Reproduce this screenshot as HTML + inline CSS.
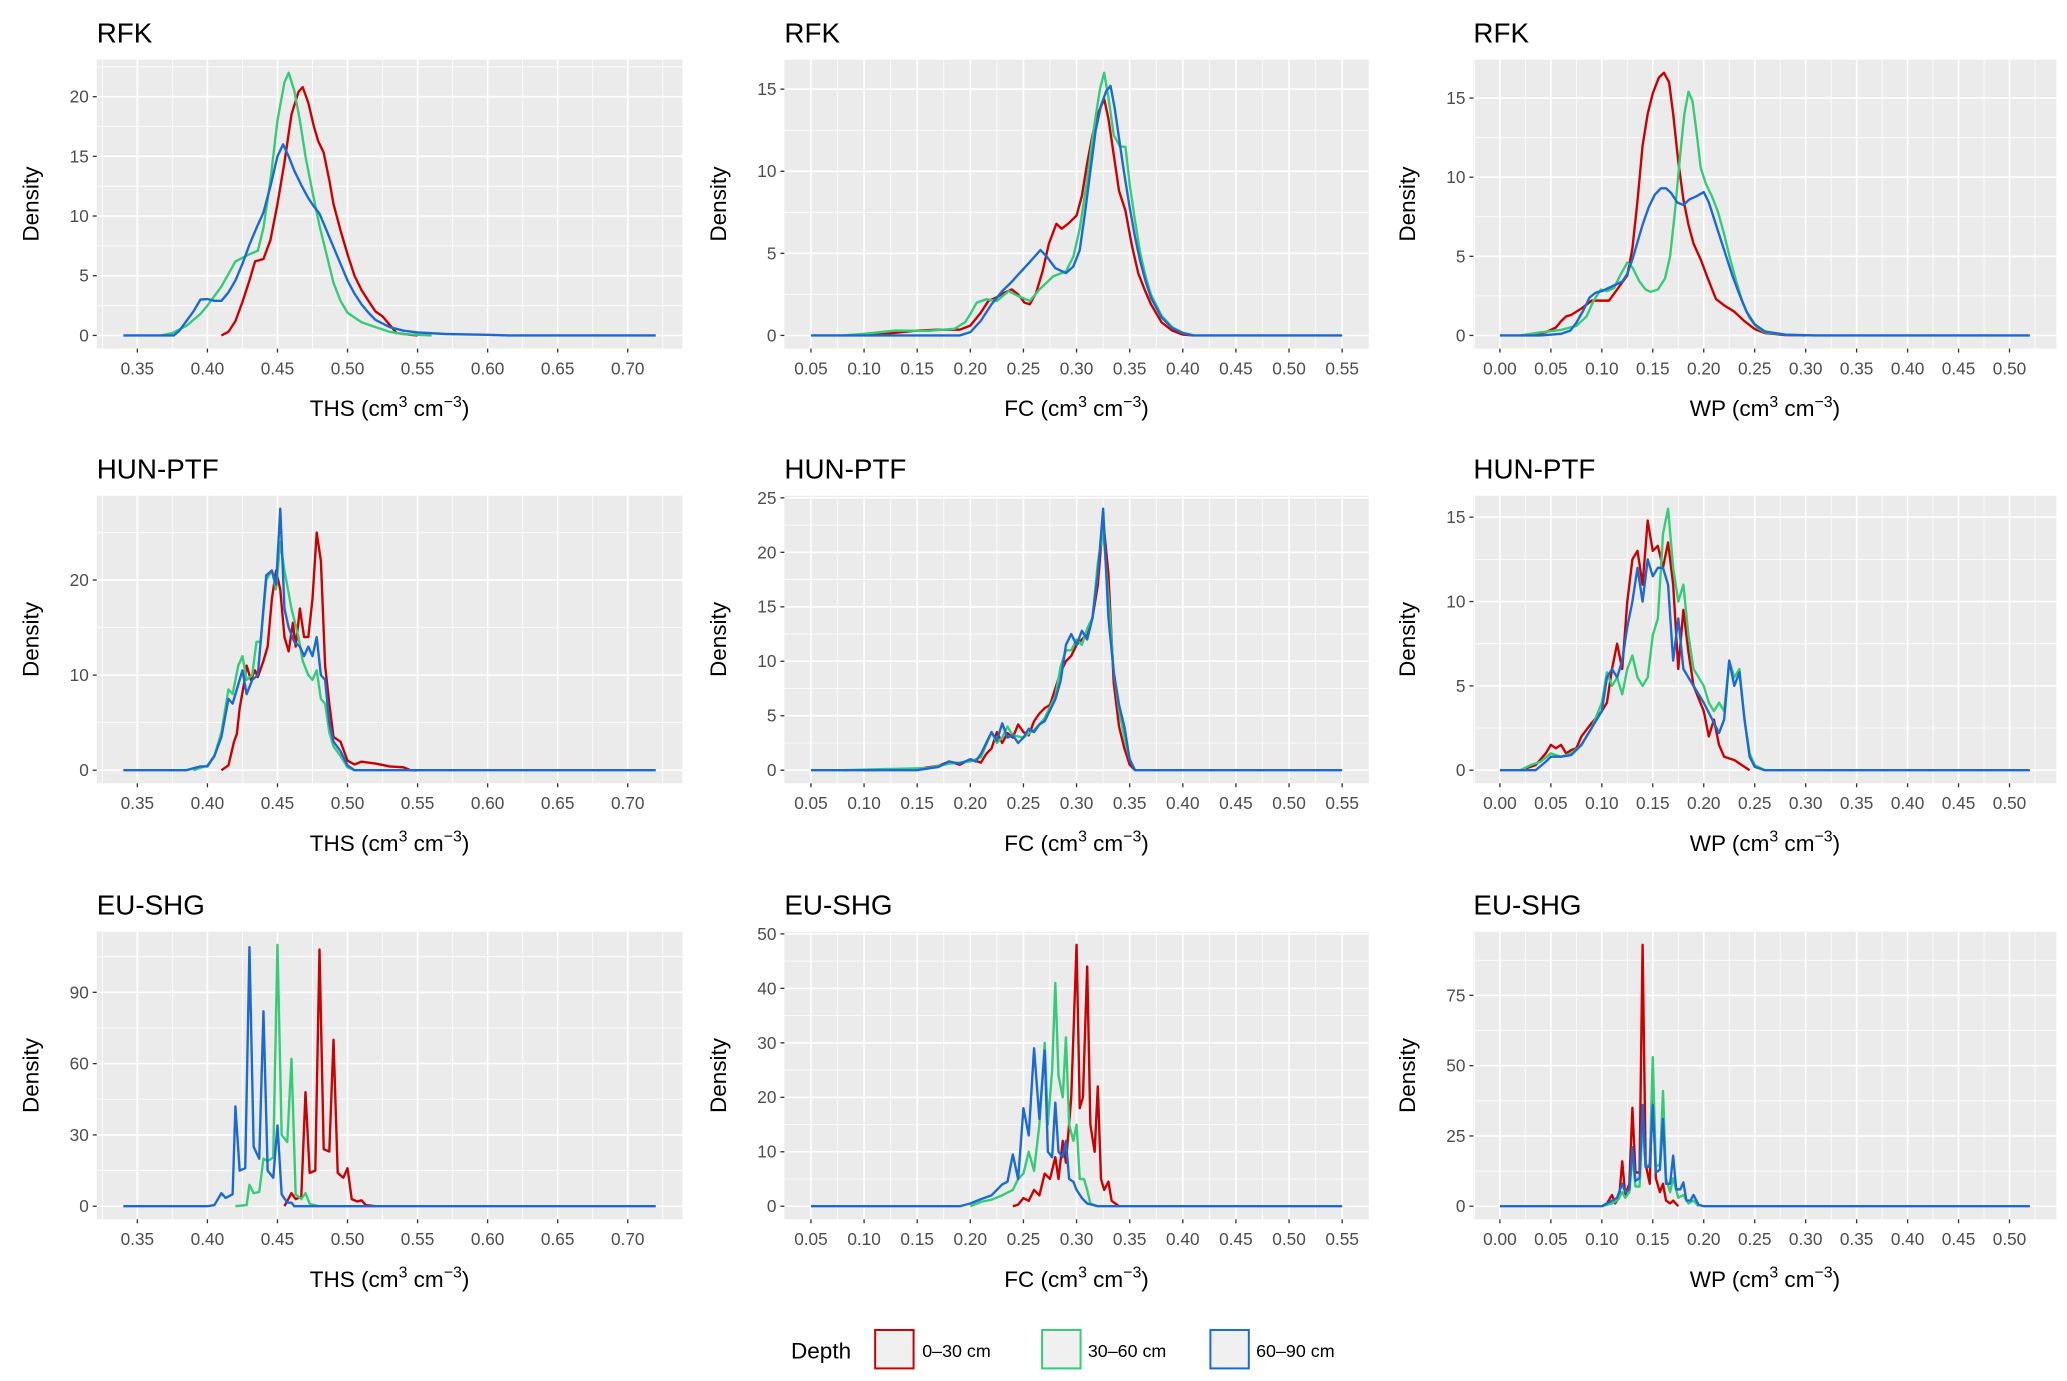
<!DOCTYPE html>
<html><head><meta charset="utf-8"><title>Density plots</title>
<style>
html,body{margin:0;padding:0;background:#fff;}
svg{display:block;}
text{font-family:"Liberation Sans",Arial,sans-serif;}
</style></head>
<body>
<svg id="fig" xmlns="http://www.w3.org/2000/svg" width="2067" height="1381" viewBox="0 0 1560 1042" preserveAspectRatio="none">
<g id="legend">
  <text x="597" y="1025" font-size="17" fill="#000">Depth</text>
  <rect x="660.5" y="1003.5" width="29" height="29" fill="#f0f0f0" stroke="#cc0000" stroke-width="1.5"/>
  <text x="696" y="1024" font-size="13.5" fill="#000">0–30 cm</text>
  <rect x="786.5" y="1003.5" width="29" height="29" fill="#f0f0f0" stroke="#33cc77" stroke-width="1.5"/>
  <text x="821" y="1024" font-size="13.5" fill="#000">30–60 cm</text>
  <rect x="913.5" y="1003.5" width="29" height="29" fill="#f0f0f0" stroke="#1a6ad4" stroke-width="1.5"/>
  <text x="948" y="1024" font-size="13.5" fill="#000">60–90 cm</text>
</g>
</svg>
<script>
// ---- tick label arrays ----
const thsTicks = [0.35,0.40,0.45,0.50,0.55,0.60,0.65,0.70];
const fcTicks = [0.05,0.10,0.15,0.20,0.25,0.30,0.35,0.40,0.45,0.50,0.55];
const wpTicks = [0.00,0.05,0.10,0.15,0.20,0.25,0.30,0.35,0.40,0.45,0.50];
const thsRange = [0.34,0.72];
const fcRange = [0.05,0.55];
const wpRange = [0.00,0.52];
const yTicksR1C1 = [0,5,10,15,20];
const yTicksR1C2 = [0,5,10,15];
const yTicksR1C3 = [0,5,10,15];
const yTicksR2C1 = [0,10,20];
const yTicksR2C2 = [0,5,10,15,20,25];
const yTicksR2C3 = [0,5,10,15];
const yTicksR3C1 = [0,30,60,90];
const yTicksR3C2 = [0,10,20,30,40,50];
const yTicksR3C3 = [0,25,50,75];
const panelTitles = ["RFK","HUN-PTF","EU-SHG"];

// ---- series data [value, density] ----
const rfkThsRed = [[0.41,0],[0.415,0.3],[0.42,1.2],[0.425,2.8],[0.43,4.6],[0.434,6.2],[0.44,6.4],[0.445,8],[0.45,11],[0.455,14.5],[0.46,18.5],[0.465,20.4],[0.468,20.8],[0.472,19.5],[0.476,17.5],[0.479,16.3],[0.483,15.3],[0.487,13],[0.49,11],[0.495,8.8],[0.50,6.8],[0.505,5],[0.51,3.8],[0.516,2.7],[0.52,2],[0.525,1.6],[0.53,0.9],[0.535,0.2],[0.545,0.05],[0.55,0]];
const rfkThsGreen = [[0.367,0],[0.375,0.2],[0.385,0.8],[0.395,1.8],[0.40,2.5],[0.41,4.1],[0.42,6.2],[0.43,6.8],[0.436,7.1],[0.44,9],[0.445,13],[0.45,18],[0.455,21.2],[0.458,22],[0.462,20.5],[0.466,18],[0.47,15],[0.475,12],[0.48,9.2],[0.485,6.8],[0.49,4.4],[0.495,2.9],[0.50,1.9],[0.51,1.1],[0.52,0.7],[0.53,0.3],[0.54,0.1],[0.56,0]];
const rfkThsBlue = [[0.34,0],[0.376,0],[0.38,0.4],[0.385,1.2],[0.39,2],[0.395,3],[0.40,3.05],[0.405,2.9],[0.41,2.9],[0.415,3.6],[0.42,4.6],[0.425,6],[0.43,7.6],[0.435,9],[0.44,10.3],[0.445,12.5],[0.45,15],[0.454,16],[0.458,15],[0.462,13.8],[0.467,12.6],[0.472,11.5],[0.476,10.8],[0.48,10.2],[0.485,8.8],[0.49,7.4],[0.495,6],[0.50,4.6],[0.505,3.5],[0.51,2.6],[0.515,1.9],[0.52,1.3],[0.53,0.7],[0.54,0.4],[0.55,0.25],[0.57,0.12],[0.60,0.05],[0.615,0],[0.72,0]];

const rfkFcRed = [[0.10,0],[0.12,0.1],[0.15,0.3],[0.17,0.35],[0.19,0.35],[0.20,0.6],[0.21,1.4],[0.217,2.1],[0.224,2.3],[0.232,2.6],[0.239,2.8],[0.245,2.5],[0.251,2.0],[0.256,1.9],[0.262,2.6],[0.268,3.9],[0.274,5.6],[0.281,6.8],[0.286,6.5],[0.292,6.8],[0.300,7.3],[0.305,8.5],[0.31,10.5],[0.315,12.2],[0.32,13.5],[0.326,14.4],[0.33,13.2],[0.335,11],[0.34,8.8],[0.346,7.6],[0.352,5.5],[0.358,3.8],[0.364,2.8],[0.37,1.9],[0.38,0.8],[0.39,0.3],[0.40,0.05],[0.41,0]];
const rfkFcGreen = [[0.08,0],[0.10,0.1],[0.13,0.3],[0.16,0.28],[0.185,0.4],[0.195,0.8],[0.20,1.3],[0.206,2.0],[0.215,2.2],[0.225,2.1],[0.236,2.7],[0.245,2.4],[0.256,2.1],[0.265,2.8],[0.278,3.6],[0.29,3.9],[0.297,4.8],[0.303,6.5],[0.31,9.5],[0.316,12.5],[0.322,15],[0.326,16],[0.33,14.5],[0.335,12.2],[0.341,11.5],[0.346,11.5],[0.35,9.2],[0.355,7],[0.36,5],[0.365,3.6],[0.37,2.5],[0.38,1.2],[0.39,0.5],[0.40,0.15],[0.41,0]];
const rfkFcBlue = [[0.05,0],[0.19,0],[0.20,0.2],[0.21,0.9],[0.22,1.9],[0.23,2.7],[0.238,3.2],[0.245,3.7],[0.255,4.4],[0.266,5.2],[0.272,4.8],[0.28,4.1],[0.29,3.8],[0.297,4.2],[0.303,5.2],[0.308,7.5],[0.313,10],[0.318,12.5],[0.323,14],[0.328,14.9],[0.332,15.2],[0.336,13.8],[0.34,12],[0.345,9.8],[0.35,7.8],[0.355,6],[0.36,4.5],[0.365,3.3],[0.37,2.3],[0.38,1.1],[0.39,0.45],[0.40,0.15],[0.41,0],[0.55,0]];

const rfkWpRed = [[0.03,0],[0.045,0.2],[0.055,0.5],[0.06,0.9],[0.065,1.2],[0.07,1.3],[0.08,1.7],[0.09,2.2],[0.10,2.2],[0.107,2.2],[0.115,2.9],[0.125,3.8],[0.13,5.5],[0.135,8.5],[0.14,12],[0.145,14],[0.15,15.3],[0.156,16.3],[0.161,16.6],[0.166,16],[0.17,14],[0.175,11],[0.18,8.6],[0.185,7],[0.19,5.8],[0.197,4.8],[0.204,3.6],[0.212,2.3],[0.22,1.9],[0.23,1.5],[0.24,0.9],[0.25,0.4],[0.26,0.15],[0.28,0.02],[0.30,0]];
const rfkWpGreen = [[0.02,0],[0.04,0.2],[0.06,0.35],[0.075,0.6],[0.085,1.2],[0.092,2.2],[0.099,2.9],[0.105,2.8],[0.112,3.0],[0.118,3.8],[0.125,4.6],[0.13,4.3],[0.137,3.4],[0.143,2.9],[0.148,2.75],[0.155,2.9],[0.162,3.6],[0.167,5],[0.172,8],[0.177,11.5],[0.181,14],[0.185,15.4],[0.189,14.8],[0.193,12.8],[0.197,10.6],[0.202,9.6],[0.208,8.8],[0.214,7.8],[0.22,6.4],[0.226,4.8],[0.232,3.4],[0.238,2.1],[0.245,1.1],[0.252,0.5],[0.26,0.2],[0.28,0.05],[0.30,0]];
const rfkWpBlue = [[0.00,0],[0.04,0],[0.06,0.1],[0.069,0.3],[0.075,0.8],[0.082,1.6],[0.088,2.4],[0.094,2.7],[0.10,2.8],[0.11,3.1],[0.12,3.4],[0.125,3.9],[0.13,4.8],[0.135,5.9],[0.14,7],[0.146,8.1],[0.152,8.9],[0.158,9.3],[0.163,9.3],[0.168,9],[0.174,8.4],[0.18,8.25],[0.186,8.6],[0.193,8.8],[0.2,9.06],[0.205,8.4],[0.21,7.4],[0.216,6.2],[0.222,5],[0.228,3.8],[0.235,2.6],[0.242,1.5],[0.25,0.7],[0.26,0.25],[0.28,0.05],[0.31,0],[0.52,0]];

const hunThsRed = [[0.41,0],[0.415,0.5],[0.419,3],[0.421,3.8],[0.423,6.5],[0.426,9],[0.428,11],[0.431,9.5],[0.434,10.5],[0.436,9.8],[0.44,11.5],[0.443,13],[0.446,18],[0.449,21],[0.452,19],[0.455,14],[0.458,12.5],[0.461,15.5],[0.463,13],[0.466,17],[0.469,14],[0.472,14],[0.475,18],[0.478,25],[0.481,22],[0.484,11],[0.487,7],[0.49,3.5],[0.495,3],[0.50,1],[0.505,0.6],[0.51,0.9],[0.52,0.7],[0.53,0.4],[0.54,0.3],[0.545,0],[0.55,0]];
const hunThsGreen = [[0.39,0],[0.40,0.5],[0.405,1.5],[0.41,4],[0.415,8.5],[0.418,8],[0.422,11],[0.425,12],[0.428,9.5],[0.432,10],[0.435,13.5],[0.438,13.5],[0.442,20],[0.446,21],[0.449,19],[0.452,24],[0.455,21],[0.46,17],[0.465,14],[0.468,11.5],[0.472,10],[0.475,9.5],[0.478,10.5],[0.481,7.5],[0.484,7],[0.487,4],[0.49,2.5],[0.495,1.5],[0.50,0.3],[0.505,0]];
const hunThsBlue = [[0.34,0],[0.385,0],[0.395,0.4],[0.40,0.4],[0.405,1.5],[0.41,3.5],[0.415,7.5],[0.418,7],[0.422,9],[0.425,10.5],[0.428,8],[0.432,9.5],[0.436,10],[0.442,20.5],[0.446,21],[0.449,19.5],[0.452,27.5],[0.455,17],[0.458,15],[0.462,13.5],[0.466,13],[0.469,12],[0.472,13],[0.475,12],[0.478,14],[0.481,10],[0.484,9.5],[0.487,5],[0.49,3],[0.495,2],[0.50,0.5],[0.505,0],[0.72,0]];

const hunFcRed = [[0.10,0],[0.15,0.1],[0.17,0.4],[0.18,0.8],[0.19,0.5],[0.20,1],[0.21,0.7],[0.215,1.5],[0.22,2],[0.225,3.5],[0.23,2.5],[0.235,3.4],[0.24,3],[0.245,4.2],[0.25,3.5],[0.255,3.2],[0.26,4.5],[0.265,5.2],[0.27,5.7],[0.275,6],[0.28,7.5],[0.285,9],[0.29,10],[0.295,10.5],[0.30,11.5],[0.305,12],[0.31,12.5],[0.315,14],[0.32,17],[0.325,23],[0.33,18],[0.335,8],[0.34,4],[0.345,2],[0.35,0.5],[0.355,0]];
const hunFcGreen = [[0.08,0],[0.12,0.1],[0.16,0.2],[0.18,0.6],[0.20,0.8],[0.21,1.2],[0.22,3.5],[0.225,2.5],[0.23,3],[0.235,4],[0.24,3.2],[0.25,3],[0.26,3.7],[0.265,4.2],[0.27,4.8],[0.28,6.8],[0.285,9.5],[0.29,11],[0.295,11],[0.30,12],[0.305,11.5],[0.31,13],[0.315,14],[0.32,19],[0.325,22],[0.33,16],[0.335,9],[0.34,5.5],[0.345,3],[0.35,1],[0.355,0]];
const hunFcBlue = [[0.05,0],[0.15,0],[0.17,0.3],[0.18,0.8],[0.19,0.6],[0.20,1],[0.205,0.8],[0.21,1.5],[0.22,3.5],[0.225,2.7],[0.23,4.3],[0.235,3],[0.24,3.2],[0.245,2.5],[0.25,3],[0.255,3.8],[0.26,3.5],[0.265,4.2],[0.27,4.5],[0.28,6.5],[0.285,8.2],[0.29,11.5],[0.295,12.5],[0.30,11.5],[0.305,12.8],[0.31,12],[0.315,14],[0.32,18],[0.325,24],[0.33,14],[0.335,9],[0.34,6],[0.345,4],[0.35,1],[0.355,0],[0.55,0]];

const hunWpRed = [[0.02,0],[0.035,0.3],[0.045,1],[0.05,1.5],[0.055,1.3],[0.06,1.5],[0.065,1],[0.07,1.2],[0.075,1.3],[0.08,2],[0.09,2.8],[0.10,3.5],[0.105,4],[0.11,6],[0.115,7.5],[0.12,6],[0.125,10],[0.13,12.5],[0.135,13],[0.14,11],[0.145,14.8],[0.15,13],[0.155,13.3],[0.16,12],[0.165,13.5],[0.17,11],[0.175,6],[0.18,9.5],[0.185,7],[0.19,5],[0.20,3.5],[0.205,2],[0.21,3],[0.215,1.5],[0.22,0.8],[0.23,0.6],[0.24,0.2],[0.245,0]];
const hunWpGreen = [[0.02,0],[0.03,0.3],[0.04,0.5],[0.05,1],[0.06,0.8],[0.07,1],[0.08,1.5],[0.09,2.5],[0.10,4],[0.105,5.8],[0.11,5],[0.115,5.5],[0.12,4.5],[0.125,6],[0.13,6.8],[0.135,5.5],[0.14,5],[0.145,5.5],[0.15,8],[0.155,9],[0.16,14],[0.165,15.5],[0.17,12],[0.175,10],[0.18,11],[0.185,8],[0.19,6],[0.195,5.5],[0.20,5],[0.205,4],[0.21,3.5],[0.215,4],[0.22,3.5],[0.225,6.5],[0.23,5.5],[0.235,6],[0.24,3],[0.245,1],[0.25,0.3],[0.26,0]];
const hunWpBlue = [[0.00,0],[0.035,0],[0.045,0.5],[0.05,0.8],[0.06,0.8],[0.07,0.9],[0.08,1.5],[0.09,2.5],[0.10,3.5],[0.105,5.5],[0.11,6],[0.115,5.5],[0.12,6.5],[0.125,8.5],[0.13,10],[0.135,12],[0.14,10],[0.145,12.5],[0.15,11.5],[0.155,12],[0.16,12],[0.165,11],[0.17,6.5],[0.175,9],[0.18,6],[0.19,5],[0.20,4],[0.21,2.8],[0.215,2.2],[0.22,3],[0.225,6.5],[0.23,5],[0.235,5.8],[0.24,3],[0.245,0.8],[0.25,0.2],[0.26,0],[0.52,0]];

const euThsRed = [[0.455,0],[0.46,5.5],[0.463,3],[0.467,4],[0.47,48],[0.473,14],[0.477,15],[0.48,108],[0.483,24],[0.487,23],[0.49,70],[0.493,14],[0.497,12],[0.50,16],[0.503,3],[0.507,2],[0.51,2.5],[0.513,0.5],[0.52,0]];
const euThsGreen = [[0.42,0],[0.428,0.5],[0.43,9],[0.433,5.5],[0.437,6],[0.44,20],[0.443,19],[0.447,20.5],[0.45,110],[0.453,30],[0.457,27],[0.46,62],[0.463,5],[0.467,3],[0.47,5.5],[0.473,1],[0.48,0]];
const euThsBlue = [[0.34,0],[0.40,0],[0.405,0.5],[0.41,5.5],[0.413,3.5],[0.418,5],[0.42,42],[0.423,15],[0.427,16],[0.43,109],[0.433,25],[0.437,20],[0.44,82],[0.443,15],[0.447,12],[0.45,34],[0.453,5],[0.457,1.5],[0.46,1.5],[0.462,0],[0.72,0]];

const euFcRed = [[0.24,0],[0.245,0.3],[0.25,1.5],[0.255,1],[0.26,3],[0.265,2],[0.27,6],[0.275,5],[0.28,9],[0.283,5],[0.287,12],[0.29,8],[0.295,20],[0.30,48],[0.303,18],[0.306,20],[0.31,44],[0.313,15],[0.317,10],[0.32,22],[0.323,5],[0.326,3],[0.33,4.5],[0.333,1],[0.34,0]];
const euFcGreen = [[0.20,0],[0.21,0.8],[0.22,1.2],[0.23,2],[0.24,3],[0.245,5],[0.25,6],[0.255,10],[0.26,6.5],[0.265,15],[0.27,30],[0.273,15],[0.277,25],[0.28,41],[0.283,24],[0.287,20],[0.29,31],[0.293,15],[0.297,12],[0.30,15],[0.303,5],[0.307,5],[0.31,3],[0.313,0.5],[0.32,0]];
const euFcBlue = [[0.05,0],[0.19,0],[0.20,0.5],[0.21,1.3],[0.22,2],[0.23,4],[0.235,4.5],[0.24,9.5],[0.245,5],[0.25,18],[0.255,13],[0.26,29],[0.265,16],[0.27,28.6],[0.273,10],[0.277,9],[0.28,19],[0.283,10],[0.287,9],[0.29,12],[0.293,5],[0.297,4.5],[0.30,3],[0.305,1.5],[0.31,0.5],[0.32,0],[0.55,0]];

const euWpRed = [[0.10,0],[0.105,1],[0.11,4],[0.113,1],[0.117,3],[0.12,16],[0.123,4],[0.127,8],[0.13,35],[0.133,12],[0.137,12],[0.14,93],[0.143,15],[0.147,8],[0.15,45],[0.153,10],[0.157,5],[0.16,8],[0.163,2],[0.167,1],[0.17,2],[0.175,0]];
const euWpGreen = [[0.10,0],[0.11,1],[0.115,2],[0.12,5],[0.123,3],[0.127,5],[0.13,18],[0.133,7],[0.137,7],[0.14,30],[0.143,14],[0.147,15],[0.15,53],[0.153,14],[0.157,15],[0.16,41],[0.163,10],[0.167,5],[0.17,10],[0.175,3],[0.18,4],[0.185,1],[0.19,2],[0.195,0]];
const euWpBlue = [[0.00,0],[0.10,0],[0.11,2],[0.115,3],[0.12,8],[0.123,5],[0.127,6],[0.13,21],[0.133,9],[0.137,10],[0.14,36],[0.143,14],[0.147,14],[0.15,36],[0.153,12],[0.157,13],[0.16,31],[0.163,8],[0.167,8],[0.17,18],[0.173,6],[0.177,6],[0.18,8.5],[0.183,2],[0.187,2],[0.19,4],[0.195,0.5],[0.20,0],[0.52,0]];

// ---- layout (pixel geometry, not data) ----
const colBox = [[73,515],[592,1033],[1112,1552]];
const rowBox = [[45,263],[374,591],[703,920]];
const colors = ["#cc0000","#33cc77","#1a6ad4"];
const seriesNames = ["0-30","30-60","60-90"];
const varNames = ["THS","FC","WP"];
const varTicks = [thsTicks,fcTicks,wpTicks];
const varRanges = [thsRange,fcRange,wpRange];
const panelSeries = [
  [[rfkThsRed,rfkThsGreen,rfkThsBlue],[rfkFcRed,rfkFcGreen,rfkFcBlue],[rfkWpRed,rfkWpGreen,rfkWpBlue]],
  [[hunThsRed,hunThsGreen,hunThsBlue],[hunFcRed,hunFcGreen,hunFcBlue],[hunWpRed,hunWpGreen,hunWpBlue]],
  [[euThsRed,euThsGreen,euThsBlue],[euFcRed,euFcGreen,euFcBlue],[euWpRed,euWpGreen,euWpBlue]]
];
const panelYTicks = [[yTicksR1C1,yTicksR1C2,yTicksR1C3],[yTicksR2C1,yTicksR2C2,yTicksR2C3],[yTicksR3C1,yTicksR3C2,yTicksR3C3]];

const NS = "http://www.w3.org/2000/svg";
const svg = document.getElementById("fig");
function mk(tag, attrs, parent){
  const el = document.createElementNS(NS, tag);
  for (const k in attrs) el.setAttribute(k, attrs[k]);
  parent.appendChild(el);
  return el;
}
function fmt(v, d){ return v.toFixed(d); }

for (let r=0; r<3; r++){
  for (let c=0; c<3; c++){
    const [x0,x1] = colBox[c], [y0,y1] = rowBox[r];
    const series = panelSeries[r][c];
    const ticksX = varTicks[c], rangeX = varRanges[c];
    const ticksY = panelYTicks[r][c];
    const span = rangeX[1]-rangeX[0];
    const xlo = rangeX[0]-0.05*span, xhi = rangeX[1]+0.05*span;
    let M = 0; series.forEach(s=>s.forEach(p=>{ if(p[1]>M) M=p[1]; }));
    const ylo = -0.05*M, yhi = 1.05*M;
    const sx = v => x0 + (v-xlo)/(xhi-xlo)*(x1-x0);
    const sy = v => y1 - (v-ylo)/(yhi-ylo)*(y1-y0);

    const g = mk("g", {}, svg);
    
    

    const bg = mk("rect", {x:x0,y:y0,width:x1-x0,height:y1-y0,fill:"#ebebeb"}, g);
    
    

    const grid = mk("g", {}, g);
    
    
    const dx = ticksX[1]-ticksX[0];
    for (let i=-1;i<ticksX.length;i++){
      const v = ticksX[0]+(i+0.5)*dx;
      if (v>xlo && v<xhi){ const X=sx(v); mk("line",{x1:X,x2:X,y1:y0,y2:y1,stroke:"#fff","stroke-width":0.6},grid); }
    }
    const dy = ticksY[1]-ticksY[0];
    for (let i=-1;i<ticksY.length+1;i++){
      const v = ticksY[0]+(i+0.5)*dy;
      if (v>ylo && v<yhi){ const Y=sy(v); mk("line",{x1:x0,x2:x1,y1:Y,y2:Y,stroke:"#fff","stroke-width":0.6},grid); }
    }
    ticksX.forEach(v=>{ const X=sx(v); mk("line",{x1:X,x2:X,y1:y0,y2:y1,stroke:"#fff","stroke-width":1.2},grid); });
    ticksY.forEach(v=>{ const Y=sy(v); mk("line",{x1:x0,x2:x1,y1:Y,y2:Y,stroke:"#fff","stroke-width":1.2},grid); });

    const xa = mk("g", {}, g);
    
    
    ticksX.forEach(v=>{
      const X=sx(v);
      mk("line",{x1:X,x2:X,y1:y1,y2:y1+3,stroke:"#333","stroke-width":1},xa);
      const t = mk("text",{x:X,y:y1+19.5,"font-size":13,fill:"#4d4d4d","text-anchor":"middle"},xa);
      t.textContent = fmt(v,2);
      
      
    });
    const xt = mk("text",{x:(x0+x1)/2,y:y1+51,"font-size":17,fill:"#000","text-anchor":"middle"},xa);
    
    
    xt.appendChild(document.createTextNode(varNames[c]+" (cm"));
    const s1 = mk("tspan",{dy:-7,"font-size":12},xt); s1.textContent="3";
    const s2 = mk("tspan",{dy:7},xt); s2.textContent=" cm";
    const s3 = mk("tspan",{dy:-7,"font-size":12},xt); s3.textContent="−3";
    const s4 = mk("tspan",{dy:7},xt); s4.textContent=")";

    const ya = mk("g", {}, g);
    
    
    ticksY.forEach(v=>{
      const Y=sy(v);
      mk("line",{x1:x0-3,x2:x0,y1:Y,y2:Y,stroke:"#333","stroke-width":1},ya);
      const t = mk("text",{x:x0-6,y:Y+4.5,"font-size":13,fill:"#4d4d4d","text-anchor":"end"},ya);
      t.textContent = String(v);
      
      
    });
    const yt = mk("text",{x:0,y:0,"font-size":17,fill:"#000","text-anchor":"middle",transform:"translate("+(x0-44)+","+((y0+y1)/2)+") rotate(-90)"},ya);
    yt.textContent = "Density";
    
    

    const tt = mk("text",{x:x0,y:y0-13,"font-size":21,fill:"#000"},g);
    tt.textContent = panelTitles[r];
    
    

    series.forEach((s,i)=>{
      const d = s.map((p,j)=>(j?"L":"M")+sx(p[0]).toFixed(2)+","+sy(p[1]).toFixed(2)).join("");
      const path = mk("path",{d:d,fill:"none",stroke:colors[i],"stroke-width":1.8,"stroke-linejoin":"round"},g);
      
      
    });
  }
}
</script>
</body></html>
